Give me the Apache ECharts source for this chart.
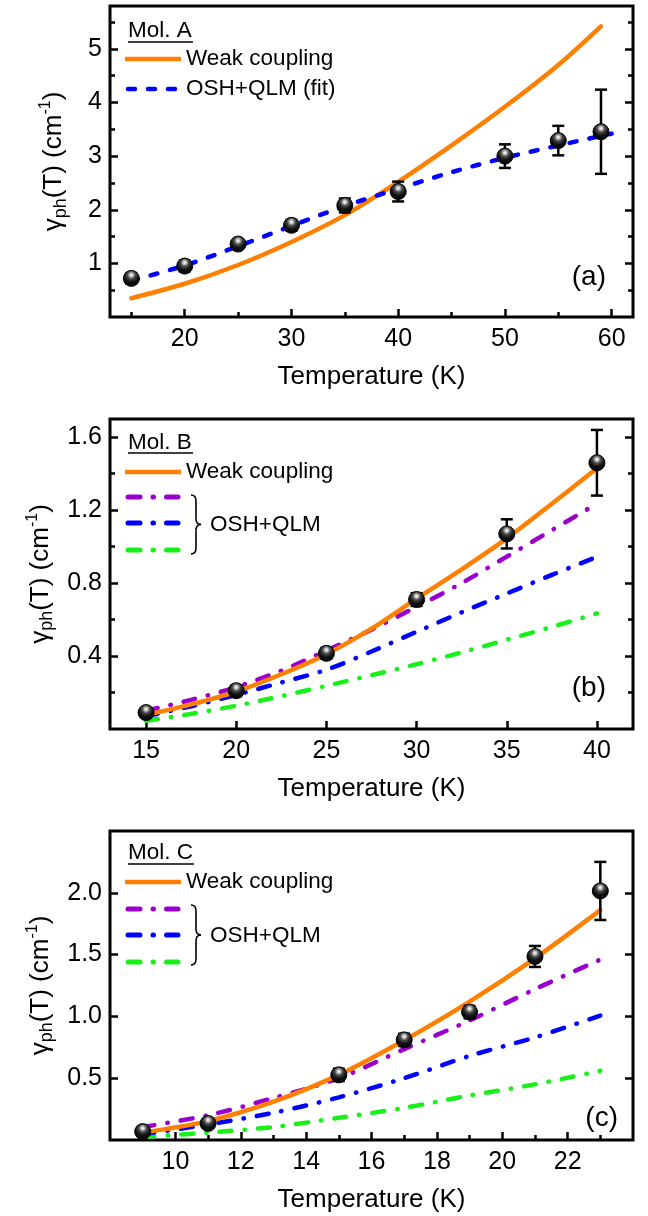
<!DOCTYPE html>
<html><head><meta charset="utf-8">
<script src="https://cdn.jsdelivr.net/npm/echarts@6/dist/echarts.min.js"></script>
<style>html,body{margin:0;padding:0;background:#fff}#c{width:648px;height:1216px}</style>
</head><body><div id="c"></div>
<script>
const FONT = 'Liberation Sans, Arial, sans-serif';

// ---------- Panel (a) Mol. A ----------
const tempA  = [15, 20, 25, 30, 35, 40, 50, 55, 59];
const gammaA = [0.72, 0.95, 1.36, 1.71, 2.08, 2.34, 3.00, 3.29, 3.455];
const errA   = [0.10, 0.10, 0.08, 0.10, 0.13, 0.185, 0.22, 0.275, 0.785];
const weakTA = [15, 20, 25, 30, 35, 40, 45, 50, 55, 59];
const weakA  = [0.35, 0.62, 0.97, 1.40, 1.90, 2.52, 3.20, 3.92, 4.70, 5.42];
const fitTA  = [15, 20, 25, 30, 35, 40, 45, 50, 55, 60];
const fitA   = [0.68, 0.96, 1.32, 1.70, 2.07, 2.39, 2.70, 2.97, 3.20, 3.42];
const xMajorA = [20, 30, 40, 50, 60];
const xMinorA = [15, 25, 35, 45, 55];
const yMajorA = [1, 2, 3, 4, 5];
const yMinorA = [0.5, 1.5, 2.5, 3.5, 4.5, 5.5];

// ---------- Panel (b) Mol. B ----------
const tempB  = [15, 20, 25, 30, 35, 40];
const gammaB = [0.09, 0.21, 0.415, 0.71, 1.07, 1.46];
const errB   = [0.02, 0.03, 0.03, 0.035, 0.08, 0.18];
const curveTB = [15, 17.5, 20, 22.5, 25, 27.5, 30, 32.5, 35, 37.5, 40];
const weakB   = [0.077, 0.135, 0.205, 0.30, 0.41, 0.55, 0.715, 0.875, 1.045, 1.235, 1.43];
const oshB1   = [0.10, 0.16, 0.23, 0.32, 0.43, 0.545, 0.67, 0.80, 0.945, 1.09, 1.236];
const oshB2   = [0.07, 0.125, 0.187, 0.255, 0.325, 0.425, 0.533, 0.64, 0.743, 0.845, 0.944];
const oshB3   = [0.045, 0.083, 0.128, 0.18, 0.237, 0.295, 0.355, 0.42, 0.49, 0.56, 0.634];
const xMajorB = [15, 20, 25, 30, 35, 40];
const yMajorB = [0.4, 0.8, 1.2, 1.6];
const yMinorB = [0.2, 0.6, 1.0, 1.4];

// ---------- Panel (c) Mol. C ----------
const tempC  = [9, 11, 15, 17, 19, 21, 23];
const gammaC = [0.068, 0.134, 0.527, 0.81, 1.035, 1.485, 2.015];
const errC   = [0.03, 0.03, 0.05, 0.05, 0.05, 0.085, 0.235];
const curveTC = [9, 11, 13, 15, 17, 19, 21, 23];
const weakC   = [0.06, 0.153, 0.31, 0.527, 0.807, 1.12, 1.47, 1.86];
const oshC1   = [0.105, 0.20, 0.34, 0.50, 0.735, 0.967, 1.22, 1.46];
const oshC2   = [0.046, 0.126, 0.22, 0.345, 0.50, 0.68, 0.83, 1.007];
const oshC3   = [0.025, 0.06, 0.105, 0.18, 0.26, 0.36, 0.45, 0.56];
const xMajorC = [10, 12, 14, 16, 18, 20, 22];
const xMinorC = [9, 11, 13, 15, 17, 19, 21, 23];
const yMajorC = [0.5, 1.0, 1.5, 2.0];
const yMinorC = [];

const ORANGE = '#FF8000', BLUE = '#0000FF', PURPLE = '#9A00CC', GREEN = '#19F019';
const DASHDOT = [12, 13, 0.5, 13];
const DASH = [7, 13];

const panels = [
  {top: 6,   height: 311, xmin: 13, xmax: 62, ymin: 0, ymax: 5.8,
   xMaj: xMajorA, xMin: xMinorA, yMaj: yMajorA, yMin: yMinorA, yFmt: v => String(v),
   T: tempA, G: gammaA, E: errA,
   lines: [
     {x: weakTA, y: weakA, color: ORANGE, type: 'solid'},
     {x: fitTA, y: fitA, color: BLUE, type: DASH}
   ]},
  {top: 419, height: 310, xmin: 13, xmax: 42, ymin: 0, ymax: 1.7,
   xMaj: xMajorB, xMin: [], yMaj: yMajorB, yMin: yMinorB, yFmt: v => v.toFixed(1),
   T: tempB, G: gammaB, E: errB,
   lines: [
     {x: curveTB, y: oshB3, color: GREEN, type: DASHDOT},
     {x: curveTB, y: oshB2, color: BLUE, type: DASHDOT},
     {x: curveTB, y: oshB1, color: PURPLE, type: DASHDOT},
     {x: curveTB, y: weakB, color: ORANGE, type: 'solid'}
   ]},
  {top: 831, height: 311, xmin: 8, xmax: 24, ymin: 0, ymax: 2.5,
   xMaj: xMajorC, xMin: xMinorC, yMaj: yMajorC, yMin: yMinorC, yFmt: v => v.toFixed(1),
   T: tempC, G: gammaC, E: errC,
   lines: [
     {x: curveTC, y: oshC3, color: GREEN, type: DASHDOT},
     {x: curveTC, y: oshC2, color: BLUE, type: DASHDOT},
     {x: curveTC, y: oshC1, color: PURPLE, type: DASHDOT},
     {x: curveTC, y: weakC, color: ORANGE, type: 'solid'}
   ]}
];

const grid = [], xAxis = [], yAxis = [], series = [];
const tickStyle = {color: '#000', width: 2.5};

const sphere = {
  type: 'radial', x: 0.5, y: 0.3, r: 0.72,
  colorStops: [
    {offset: 0, color: '#ffffff'},
    {offset: 0.12, color: '#d0d0d0'},
    {offset: 0.32, color: '#4a4a4a'},
    {offset: 0.6, color: '#101010'},
    {offset: 1, color: '#000000'}
  ]
};

panels.forEach((p, gi) => {
  grid.push({left: 110, width: 523, top: p.top, height: p.height, show: true,
             borderColor: '#000', borderWidth: 3, backgroundColor: 'transparent'});
  const xi = xAxis.length;
  xAxis.push({
    type: 'value', gridIndex: gi, min: p.xmin, max: p.xmax, position: 'bottom',
    axisLine: {show: false}, splitLine: {show: false},
    axisTick: {show: true, inside: true, length: 8, lineStyle: tickStyle, customValues: p.xMaj},
    axisLabel: {show: true, customValues: p.xMaj, fontSize: 25, fontFamily: FONT, color: '#000', margin: 10},
    name: 'Temperature (K)', nameLocation: 'middle', nameGap: 45,
    nameTextStyle: {fontSize: 26, fontFamily: FONT, color: '#000', lineHeight: 30}
  });
  if (p.xMin.length) {
    xAxis.push({
      type: 'value', gridIndex: gi, min: p.xmin, max: p.xmax, position: 'bottom',
      axisLine: {show: false}, splitLine: {show: false}, axisLabel: {show: false},
      axisTick: {show: true, inside: true, length: 5, lineStyle: tickStyle, customValues: p.xMin}
    });
  }
  const yi = yAxis.length;
  yAxis.push({
    type: 'value', gridIndex: gi, min: p.ymin, max: p.ymax, position: 'left',
    axisLine: {show: false}, splitLine: {show: false},
    axisTick: {show: true, inside: true, length: 8, lineStyle: tickStyle, customValues: p.yMaj},
    axisLabel: {show: true, customValues: p.yMaj, formatter: p.yFmt, fontSize: 25, fontFamily: FONT, color: '#000', margin: 8},
    name: '{a|γ}{b|ph}{a|(T) (cm}{c|-1}{a|)}', nameLocation: 'middle', nameGap: 40, nameRotate: 90,
    nameTextStyle: {
      color: '#000',
      rich: {
        a: {fontSize: 26, fontFamily: FONT, color: '#000', lineHeight: 32, verticalAlign: 'middle'},
        b: {fontSize: 18, fontFamily: FONT, color: '#000', lineHeight: 18, verticalAlign: 'bottom'},
        c: {fontSize: 16, fontFamily: FONT, color: '#000', lineHeight: 16, verticalAlign: 'top'}
      }
    }
  });
  yAxis.push({
    type: 'value', gridIndex: gi, min: p.ymin, max: p.ymax, position: 'right',
    axisLine: {show: false}, splitLine: {show: false}, axisLabel: {show: false},
    axisTick: {show: true, inside: true, length: 8, lineStyle: tickStyle, customValues: p.yMaj}
  });
  if (p.yMin.length) {
    yAxis.push({
      type: 'value', gridIndex: gi, min: p.ymin, max: p.ymax, position: 'left',
      axisLine: {show: false}, splitLine: {show: false}, axisLabel: {show: false},
      axisTick: {show: true, inside: true, length: 5, lineStyle: tickStyle, customValues: p.yMin}
    });
    yAxis.push({
      type: 'value', gridIndex: gi, min: p.ymin, max: p.ymax, position: 'right',
      axisLine: {show: false}, splitLine: {show: false}, axisLabel: {show: false},
      axisTick: {show: true, inside: true, length: 5, lineStyle: tickStyle, customValues: p.yMin}
    });
  }

  p.lines.forEach(l => {
    series.push({
      type: 'line', xAxisIndex: xi, yAxisIndex: yi, showSymbol: false, symbol: 'none',
      smooth: 0.3, silent: true, z: 3,
      lineStyle: {color: l.color, width: 4.5, type: l.type, cap: 'round'},
      data: l.x.map((t, i) => [t, l.y[i]])
    });
  });

  series.push({
    type: 'custom', xAxisIndex: xi, yAxisIndex: yi, z: 5, silent: true,
    data: p.T.map((t, i) => [t, p.G[i], p.E[i]]),
    renderItem: function (params, api) {
      const x = api.value(0), y = api.value(1), e = api.value(2);
      const a = api.coord([x, y + e]), b = api.coord([x, y - e]);
      const w = 6;
      const st = {stroke: '#000', lineWidth: 2.5};
      return {type: 'group', children: [
        {type: 'line', shape: {x1: a[0], y1: a[1], x2: b[0], y2: b[1]}, style: st},
        {type: 'line', shape: {x1: a[0] - w, y1: a[1], x2: a[0] + w, y2: a[1]}, style: st},
        {type: 'line', shape: {x1: b[0] - w, y1: b[1], x2: b[0] + w, y2: b[1]}, style: st}
      ]};
    }
  });

  series.push({
    type: 'scatter', xAxisIndex: xi, yAxisIndex: yi, z: 10, silent: true,
    symbol: 'circle', symbolSize: 16,
    itemStyle: {color: sphere, borderColor: '#000', borderWidth: 1, opacity: 1},
    data: p.T.map((t, i) => [t, p.G[i]])
  });
});

// ---------- legends / annotations (graphic) ----------
const graphic = [];
function txt(x, y, s, size, align) {
  graphic.push({type: 'text', x: x, y: y, z: 20, silent: true,
    style: {text: s, fontSize: size || 22.5, fontFamily: FONT, fill: '#000',
            textAlign: align || 'left', textVerticalAlign: 'middle'}});
}
function seg(x1, x2, y, color, dash, w) {
  graphic.push({type: 'line', z: 20, silent: true,
    shape: {x1: x1, y1: y, x2: x2, y2: y},
    style: {stroke: color, lineWidth: w || 4.5, lineDash: dash || null, lineCap: dash ? 'round' : 'butt'}});
}
function brace(x, y0, y1) {
  const m = (y0 + y1) / 2;
  const st = {stroke: '#000', lineWidth: 1.6, fill: null};
  const q = (x1, y1, cx, cy, x2, y2) => graphic.push({type: 'bezierCurve', z: 20, silent: true,
    shape: {x1: x1, y1: y1, x2: x2, y2: y2, cpx1: cx, cpy1: cy}, style: st});
  const l = (x1, y1, x2, y2) => graphic.push({type: 'line', z: 20, silent: true,
    shape: {x1: x1, y1: y1, x2: x2, y2: y2}, style: st});
  q(x, y0, x + 5, y0, x + 5, y0 + 6);
  l(x + 5, y0 + 6, x + 5, m - 6);
  q(x + 5, m - 6, x + 5, m, x + 10, m);
  q(x + 10, m, x + 5, m, x + 5, m + 6);
  l(x + 5, m + 6, x + 5, y1 - 6);
  q(x + 5, y1 - 6, x + 5, y1, x, y1);
}

// (a)
txt(128, 31, 'Mol. A'); seg(128, 193, 42, '#000', null, 1.3);
seg(125, 181, 59, ORANGE); txt(186, 59, 'Weak coupling');
seg(128, 180, 89, BLUE, DASH); txt(186, 89, 'OSH+QLM (fit)');
txt(606, 277, '(a)', 28, 'right');

// (b)
txt(128, 443, 'Mol. B'); seg(128, 193, 453, '#000', null, 1.3);
seg(125, 181, 472, ORANGE); txt(186, 472, 'Weak coupling');
seg(128, 178, 497, PURPLE, DASHDOT, 5);
seg(128, 178, 523, BLUE, DASHDOT, 5);
seg(128, 178, 550, GREEN, DASHDOT, 5);
brace(191, 495, 554); txt(210, 525, 'OSH+QLM');
txt(606, 688, '(b)', 28, 'right');

// (c)
txt(128, 853, 'Mol. C'); seg(128, 194, 864, '#000', null, 1.3);
seg(125, 181, 882, ORANGE); txt(186, 882, 'Weak coupling');
seg(128, 178, 909, PURPLE, DASHDOT, 5);
seg(128, 178, 935, BLUE, DASHDOT, 5);
seg(128, 178, 962, GREEN, DASHDOT, 5);
brace(191, 905, 965); txt(210, 936, 'OSH+QLM');
txt(618, 1118, '(c)', 28, 'right');

const chart = echarts.init(document.getElementById('c'), null, {renderer: 'canvas'});
chart.setOption({
  animation: false,
  backgroundColor: '#fff',
  grid, xAxis, yAxis, series, graphic
});
</script>
</body></html>
